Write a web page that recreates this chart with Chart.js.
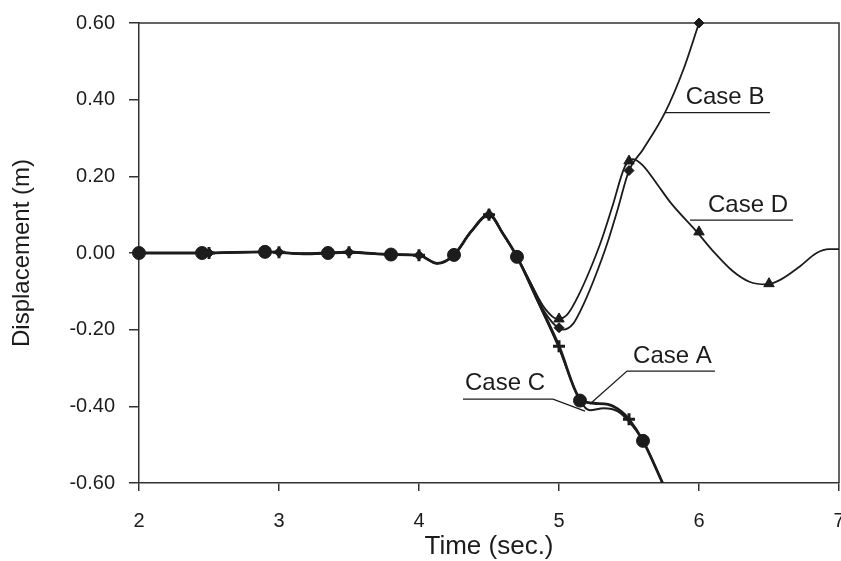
<!DOCTYPE html>
<html><head><meta charset="utf-8">
<script src="https://cdn.jsdelivr.net/npm/chart.js@4.4.1/dist/chart.umd.min.js"></script>
<style>html,body{margin:0;padding:0;background:#fff;}#wrap{width:841px;height:561px;}</style>
</head><body><div id="wrap"><canvas id="c" width="841" height="561"></canvas></div>
<script>
// ---- tick values ----
const xTicks = [2, 3, 4, 5, 6, 7];
const yTicks = [-0.6, -0.4, -0.2, 0, 0.2, 0.4, 0.6];

// ---- curves (time in s, displacement in m) ----
const caseA_t = [2.0, 2.45, 2.9, 3.2, 3.5, 3.8, 4.0, 4.13, 4.25, 4.37, 4.5, 4.6, 4.7, 4.85, 5.0, 5.15, 5.25, 5.35, 5.45, 5.5, 5.6, 5.74];
const caseA_d = [0, 0, 0.003, -0.002, 0.002, -0.004, -0.006, -0.027, -0.005, 0.055, 0.1, 0.05, -0.01, -0.125, -0.243, -0.38, -0.392, -0.395, -0.415, -0.434, -0.49, -0.6];

const caseB_t = [2.0, 2.45, 2.9, 3.2, 3.5, 3.8, 4.0, 4.13, 4.25, 4.37, 4.5, 4.6, 4.7, 4.8, 4.9, 5.03, 5.1, 5.18, 5.26, 5.34, 5.42, 5.5, 5.6, 5.757, 5.89, 6.0];
const caseB_d = [0, 0, 0.003, -0.002, 0.002, -0.004, -0.006, -0.027, -0.005, 0.055, 0.1, 0.05, -0.01, -0.08, -0.155, -0.2, -0.185, -0.13, -0.06, 0.02, 0.115, 0.215, 0.27, 0.366, 0.48, 0.6];

const caseC_t = [2.0, 2.45, 2.9, 3.2, 3.5, 3.8, 4.0, 4.13, 4.25, 4.37, 4.5, 4.6, 4.7, 4.85, 5.0, 5.15, 5.22, 5.32, 5.42, 5.5, 5.6, 5.74];
const caseC_d = [0, 0, 0.003, -0.002, 0.002, -0.004, -0.006, -0.027, -0.005, 0.055, 0.1, 0.05, -0.01, -0.128, -0.248, -0.385, -0.41, -0.405, -0.413, -0.44, -0.49, -0.6];

const caseD_t = [2.0, 2.45, 2.9, 3.2, 3.5, 3.8, 4.0, 4.13, 4.25, 4.37, 4.5, 4.6, 4.7, 4.8, 4.9, 4.99, 5.06, 5.14, 5.22, 5.3, 5.38, 5.47, 5.53, 5.6, 5.7, 5.8, 5.98, 6.1, 6.24, 6.36, 6.48, 6.58, 6.72, 6.84, 6.93, 7.0];
const caseD_d = [0, 0, 0.003, -0.002, 0.002, -0.004, -0.006, -0.027, -0.005, 0.055, 0.1, 0.05, -0.01, -0.08, -0.145, -0.172, -0.16, -0.11, -0.045, 0.03, 0.12, 0.225, 0.245, 0.228, 0.18, 0.13, 0.057, 0.005, -0.047, -0.075, -0.082, -0.07, -0.035, 0.0, 0.01, 0.01];

// ---- markers ----
const markA_t = [2.5, 3.0, 3.5, 4.0, 4.5, 5.0, 5.5];
const markA_d = [0, 0.002, 0.002, -0.006, 0.1, -0.243, -0.434];
const markB_t = [2.5, 3.0, 3.5, 4.0, 4.5, 5.0, 5.5, 6.0];
const markB_d = [0, 0.002, 0.002, -0.006, 0.1, -0.195, 0.215, 0.6];
const markC_t = [2.0, 2.45, 2.9, 3.35, 3.8, 4.25, 4.7, 5.15, 5.6];
const markC_d = [0, 0, 0.003, 0, -0.004, -0.005, -0.01, -0.385, -0.49];
const markD_t = [4.5, 5.0, 5.5, 6.0, 6.5];
const markD_d = [0.1, -0.172, 0.24, 0.055, -0.08];

// ---- annotation labels ----
const labelText = ["Case B", "Case D", "Case A", "Case C"];
const labelT = [6.186, 6.35, 5.81, 4.614];
const labelD = [0.407, 0.125, -0.269, -0.339];
const leaderT = [[5.757, 6.507], [5.936, 6.671], [5.221, 5.486, 6.114], [4.314, 4.957, 5.186]];
const leaderD = [[0.366, 0.366], [0.086, 0.086], [-0.394, -0.308, -0.308], [-0.381, -0.381, -0.4125]];

const FONT = "'Liberation Sans', Arial, Helvetica, sans-serif";
const INK = '#1c1c1c';
const pts = (t, d) => t.map((v, i) => ({x: v, y: d[i]}));

function curve(t, d, w) {
  return {type: 'line', data: pts(t, d), borderColor: INK, borderWidth: w, pointRadius: 0,
    cubicInterpolationMode: 'monotone', fill: false, clip: 0, order: 2};
}
function marks(t, d, style, r, bw) {
  return {type: 'line', data: pts(t, d), showLine: false, pointStyle: style, pointRadius: r,
    pointBackgroundColor: INK, pointBorderColor: INK, pointBorderWidth: bw, clip: false, order: 1};
}

const framePlugin = {
  id: 'frame',
  beforeDatasetsDraw(chart) {
    const {ctx, chartArea: a} = chart;
    ctx.save();
    ctx.strokeStyle = '#333'; ctx.lineWidth = 1.5;
    ctx.beginPath(); ctx.moveTo(a.left, a.top); ctx.lineTo(a.right, a.top); ctx.lineTo(a.right, a.bottom);
    ctx.stroke(); ctx.restore();
  }
};

const labelPlugin = {
  id: 'caseLabels',
  afterDatasetsDraw(chart) {
    const {ctx} = chart; const xs = chart.scales.x, ys = chart.scales.y;
    ctx.save();
    ctx.strokeStyle = INK; ctx.lineWidth = 1.3;
    leaderT.forEach((tt, i) => {
      ctx.beginPath();
      tt.forEach((t, j) => {
        const px = xs.getPixelForValue(t), py = ys.getPixelForValue(leaderD[i][j]);
        if (j === 0) ctx.moveTo(px, py); else ctx.lineTo(px, py);
      });
      ctx.stroke();
    });
    ctx.fillStyle = INK; ctx.font = '24px ' + FONT; ctx.textAlign = 'center'; ctx.textBaseline = 'middle';
    labelText.forEach((s, i) => ctx.fillText(s, xs.getPixelForValue(labelT[i]), ys.getPixelForValue(labelD[i])));
    ctx.restore();
  }
};

new Chart(document.getElementById('c'), {
  type: 'line',
  data: {datasets: [
    curve(caseA_t, caseA_d, 2.8),
    curve(caseB_t, caseB_d, 1.8),
    curve(caseC_t, caseC_d, 2.0),
    curve(caseD_t, caseD_d, 1.8),
    marks(markB_t, markB_d, 'rectRot', 5, 1),
    marks(markD_t, markD_d, 'triangle', 6, 1),
    marks(markA_t, markA_d, 'cross', 6, 3),
    marks(markC_t, markC_d, 'circle', 6.5, 1)
  ]},
  options: {
    responsive: false, animation: false, devicePixelRatio: 1,
    layout: {padding: {left: 8, top: 23, right: 2, bottom: 0}, autoPadding: false},
    plugins: {legend: {display: false}, tooltip: {enabled: false}},
    scales: {
      x: {type: 'linear', min: 2, max: 7,
        afterBuildTicks: s => { s.ticks = xTicks.map(v => ({value: v})); },
        afterFit: s => { s.height = 78; s.paddingLeft = 0; s.paddingRight = 0; },
        grid: {drawOnChartArea: false, drawTicks: true, tickLength: 8, color: '#333', lineWidth: 1.5},
        border: {color: '#333', width: 1.5},
        ticks: {font: {family: FONT, size: 20}, color: INK, padding: 18, maxRotation: 0, callback: v => String(v)},
        title: {display: true, text: 'Time (sec.)', color: INK, font: {family: FONT, size: 26, lineHeight: 1.0}, padding: {top: 1, bottom: 1}}
      },
      y: {type: 'linear', min: -0.6, max: 0.6,
        afterBuildTicks: s => { s.ticks = yTicks.map(v => ({value: v})); },
        afterFit: s => { s.width = 131; s.paddingTop = 0; s.paddingBottom = 0; },
        grid: {drawOnChartArea: false, drawTicks: true, tickLength: 10, color: '#333', lineWidth: 1.5},
        border: {color: '#333', width: 1.5},
        ticks: {font: {family: FONT, size: 20}, color: INK, padding: 14, callback: v => v.toFixed(2)},
        title: {display: true, text: 'Displacement (m)', color: INK, font: {family: FONT, size: 24}, padding: {top: 0, bottom: 18}}
      }
    }
  },
  plugins: [framePlugin, labelPlugin]
});
</script></body></html>
